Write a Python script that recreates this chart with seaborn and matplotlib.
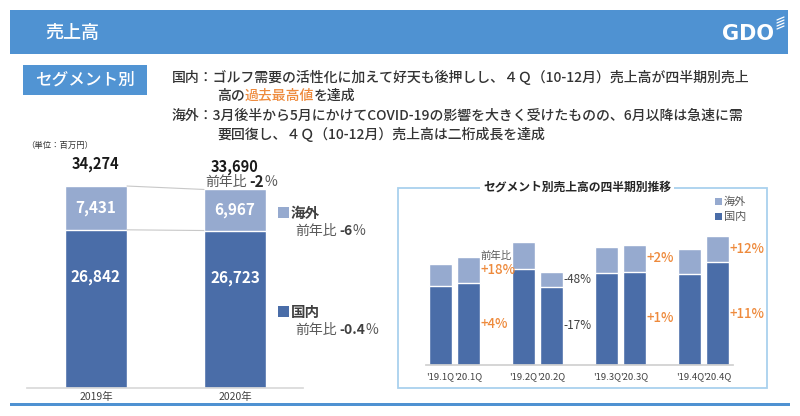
import numpy as np
import pandas as pd
import matplotlib.pyplot as plt
from matplotlib.patches import Rectangle
from matplotlib.lines import Line2D
import seaborn as sns

sns.set_theme(style='white')
plt.rcParams['font.family'] = ['Noto Sans CJK JP', 'DejaVu Sans']

# 年間（百万円）
years = ['2019年', '2020年']
domestic = [26842, 26723]
overseas = [7431, 6967]
total = [34274, 33690]

# 四半期（百万円、グラフから読み取り）
quarters = ["'19.1Q", "'20.1Q", "'19.2Q", "'20.2Q", "'19.3Q", "'20.3Q", "'19.4Q", "'20.4Q"]
q_domestic = [5920, 6160, 7170, 5870, 6910, 6990, 6840, 7710]
q_overseas = [1630, 1900, 2020, 1080, 1950, 1980, 1830, 1970]
ovs_yoy = ['+18%', '-48%', '+2%', '+12%']
dom_yoy = ['+4%', '-17%', '+1%', '+11%']

BLUE = '#4f92d2'
DARK = '#4a6da8'
LIGHT = '#96aacf'
ORANGE = '#ee8a3c'
GRAY = '#595959'
TXT = '#333333'

W, H = 800, 416
fig = plt.figure(figsize=(8, 4.16), dpi=100)


def fx(px):
    return px / W


def fy(py):
    return 1 - py / H


def rect(x0, y0, x1, y1, **kw):
    fig.add_artist(Rectangle((fx(x0), fy(y1)), (x1 - x0) / W, (y1 - y0) / H,
                             transform=fig.transFigure, **kw))


def rich(x, y, parts, ha='left', size=10):
    # 文字列を横に並べる（数値はすき間 px）
    r = fig.canvas.get_renderer()
    items = []
    for p in parts:
        if isinstance(p, (int, float)):
            items.append(p)
            continue
        s, kw = p
        kw = dict(kw)
        t = fig.text(0, fy(y), s, va='center', ha='left', fontsize=kw.pop('size', size), **kw)
        items.append(t)
    widths = [it if isinstance(it, (int, float)) else it.get_window_extent(r).width for it in items]
    cur = x - sum(widths) / 2 if ha == 'center' else x
    for it, w in zip(items, widths):
        if not isinstance(it, (int, float)):
            it.set_x(fx(cur))
        cur += w


# ヘッダー
rect(10, 10, 788, 54, color=BLUE, lw=0)
fig.text(fx(45), fy(33), '売上高', color='white', fontsize=13, va='center', fontweight='medium')
fig.text(fx(722), fy(34), 'GDO', color='white', fontsize=15, fontweight='bold', va='center',
         family='DejaVu Sans')
for i in range(4):
    fig.add_artist(Line2D([fx(777), fx(784)], [fy(29 - i * 3), fy(26 - i * 3)],
                          transform=fig.transFigure, color='white', lw=0.9))
rect(10, 403, 790, 406, color=BLUE, lw=0)

# セグメント別ボックス
rect(23, 65, 147, 95, color='#5194d3', lw=0)
fig.text(fx(85), fy(80), 'セグメント別', color='white', fontsize=12, ha='center', va='center',
         fontweight='medium')

# 説明文
fig.text(fx(172), fy(77), '国内：ゴルフ需要の活性化に加えて好天も後押しし、４Ｑ（10-12月）売上高が四半期別売上',
         fontsize=10, color=TXT, va='center', fontweight='medium')
rich(217, 96, [('高の', dict(color=TXT, fontweight='medium')), ('過去最高値', dict(color=ORANGE, fontweight='medium')),
               ('を達成', dict(color=TXT, fontweight='medium'))])
fig.text(fx(172), fy(116), '海外：3月後半から5月にかけてCOVID-19の影響を大きく受けたものの、6月以降は急速に需',
         fontsize=10, color=TXT, va='center', fontweight='medium')
fig.text(fx(217), fy(134), '要回復し、４Ｑ（10-12月）売上高は二桁成長を達成',
         fontsize=10, color=TXT, va='center', fontweight='medium')
fig.text(fx(26), fy(145), '（単位：百万円）', fontsize=6, color=TXT, va='center')

# 年間の積み上げ棒
ax1 = fig.add_axes([fx(27), fy(388), (303 - 27) / W, (388 - 160) / H])
bw = 0.446
sns.barplot(x=years, y=total, color=LIGHT, width=bw, saturation=1, errorbar=None, ax=ax1)
sns.barplot(x=years, y=domestic, color=DARK, width=bw, saturation=1, errorbar=None, ax=ax1)
ax1.plot([bw / 2, 1 - bw / 2], total, color='#c8c8c8', lw=0.8)
ax1.plot([bw / 2, 1 - bw / 2], domestic, color='#c8c8c8', lw=0.8)
ax1.set_xlim(-0.496, 1.489)
ax1.set_ylim(0, 38690)
ax1.set_yticks([])
ax1.set_ylabel('')
ax1.set_xticks([0, 1], years)
ax1.tick_params(axis='x', length=0, pad=3, labelsize=7.5, labelcolor='#404040')
for s in ['top', 'right', 'left']:
    ax1.spines[s].set_visible(False)
ax1.spines['bottom'].set_color('#d9d9d9')
for i in range(2):
    ax1.annotate(f'{total[i]:,}', (i, total[i]), xytext=(0, 16), textcoords='offset points',
                 ha='center', va='center', fontsize=10.5, fontweight='bold', color='#1a1a1a')
    ax1.text(i, domestic[i] + overseas[i] / 2, f'{overseas[i]:,}', ha='center', va='center',
             fontsize=11, fontweight='bold', color='white')
    ax1.text(i, domestic[i] * 0.7, f'{domestic[i]:,}', ha='center', va='center',
             fontsize=11, fontweight='bold', color='white')

rich(241, 182, [('前年比', dict(color=GRAY)), 3, ('-2', dict(color='#262626', fontweight='bold', size=11)),
                ('%', dict(color=GRAY))], ha='center')

rect(278, 207, 289, 218, color=LIGHT, lw=0)
fig.text(fx(291), fy(213), '海外', fontsize=10.5, fontweight='bold', color='#404040', va='center')
rich(295, 231, [('前年比', dict(color=GRAY)), 3, ('-6', dict(color='#404040', fontweight='bold')),
                ('%', dict(color=GRAY))])
rect(278, 306, 289, 317, color=DARK, lw=0)
fig.text(fx(291), fy(312), '国内', fontsize=10.5, fontweight='bold', color='#404040', va='center')
rich(295, 330, [('前年比', dict(color=GRAY)), 3, ('-0.4', dict(color='#404040', fontweight='bold')),
                ('%', dict(color=GRAY))])

# 四半期チャート
rect(398, 188, 767, 388, fill=False, edgecolor='#a9d1ee', lw=1.3)
fig.text(fx(577), fy(187), 'セグメント別売上高の四半期別推移', ha='center', va='center', fontsize=8.5,
         fontweight='bold', color='#262626', bbox=dict(facecolor='white', edgecolor='none', pad=2))
rect(715, 198, 722, 205, color=LIGHT, lw=0)
fig.text(fx(724), fy(202), '海外', fontsize=8, color=GRAY, va='center')
rect(715, 213, 722, 220, color=DARK, lw=0)
fig.text(fx(724), fy(217), '国内', fontsize=8, color=GRAY, va='center')

pos = [g * 3 + k for g in range(4) for k in range(2)]
q = pd.DataFrame({'pos': pos, 'dom': q_domestic, 'ovs': q_overseas})
q['tot'] = q['dom'] + q['ovs']

ax2 = fig.add_axes([fx(426), fy(365), (733 - 426) / W, (365 - 188) / H])
sns.barplot(data=q, x='pos', y='tot', native_scale=True, orient='x', color=LIGHT, width=0.83,
            saturation=1, errorbar=None, ax=ax2)
sns.barplot(data=q, x='pos', y='dom', native_scale=True, orient='x', color=DARK, width=0.83,
            saturation=1, errorbar=None, ax=ax2)
ax2.set_xlim(-0.52, 10.56)
ax2.set_ylim(0, 13257)
ax2.set_yticks([])
ax2.set_xlabel('')
ax2.set_ylabel('')
ax2.set_xticks(pos, quarters)
ax2.tick_params(axis='x', length=0, pad=5, labelsize=6.8, labelcolor='#404040')
for s in ['top', 'right', 'left']:
    ax2.spines[s].set_visible(False)
ax2.spines['bottom'].set_color('#d0d0d0')

for g in range(4):
    i = g * 2 + 1
    xp = pos[i] + 0.43
    for lab, yv in [(ovs_yoy[g], q['dom'][i] + q['ovs'][i] / 2), (dom_yoy[g], q['dom'][i] / 2)]:
        pos_lab = lab.startswith('+')
        ax2.text(xp, yv, lab, ha='left', va='center', fontsize=9.5 if pos_lab else 8.5,
                 color=ORANGE if pos_lab else '#404040', fontweight='medium' if pos_lab else 'normal')
    if g == 0:
        ax2.annotate('前年比', (xp, q['dom'][i] + q['ovs'][i] / 2), xytext=(0, 10),
                     textcoords='offset points', ha='left', va='center', fontsize=7.5, color=GRAY)

fig.savefig('out.png', dpi=100)
